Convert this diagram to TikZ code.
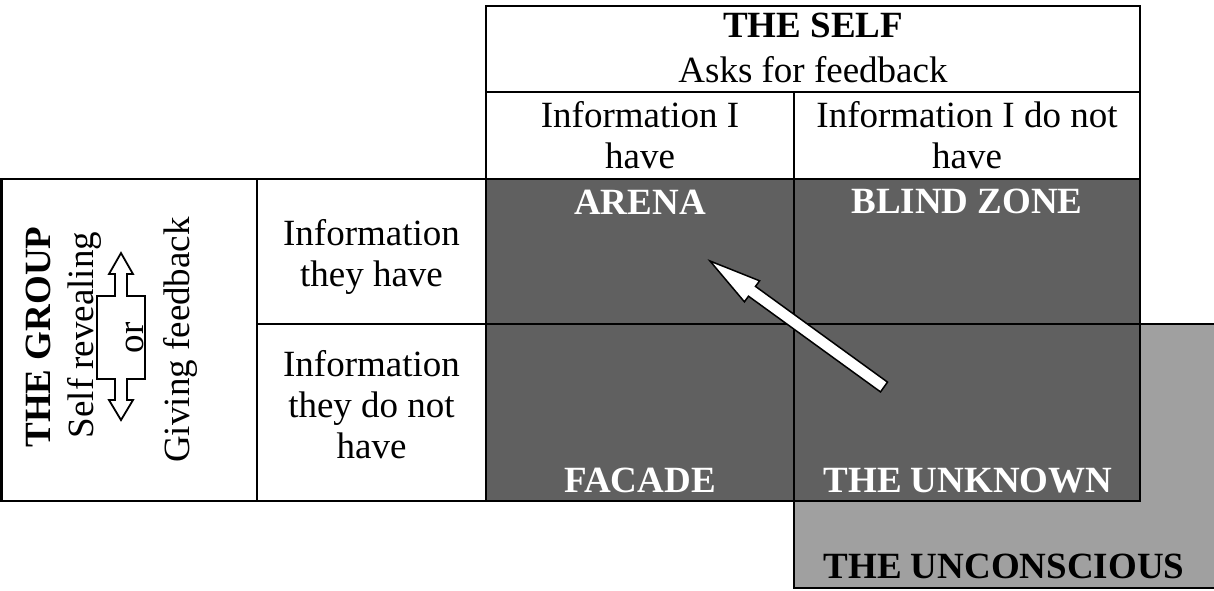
\documentclass[tikz,border=0pt]{standalone}
\usepackage{fontspec}
\setmainfont{Liberation Serif}
\definecolor{zonedark}{RGB}{96,96,96}
\definecolor{zonelight}{RGB}{160,160,160}
\begin{document}
\begin{tikzpicture}[x=1pt,y=-1pt,line width=2.5pt,
  reg/.style={font=\fontsize{37}{41}\selectfont, align=center, anchor=base, inner sep=0pt},
  hdr/.style={font=\fontsize{37}{41}\selectfont\bfseries, anchor=base, inner sep=0pt},
  zonelbl/.style={hdr, text=white},
  side/.style={reg, rotate=90}
]
\useasboundingbox (0,0) rectangle (1214,590);
% fills
\fill[zonelight] (794,324) rectangle (1220,588);
\fill[zonedark] (486,179) rectangle (1140,501);
% grid lines
\draw (486,6) rectangle (1140,179);
\draw (486,92) -- (1140,92);
\draw (794,92) -- (794,501);
\draw (1.25,179) rectangle (1140,501);
\draw (257,179) -- (257,501);
\draw (486,179) -- (486,501);
\draw (257,324) -- (1220,324);
\draw (794,501) -- (794,588) -- (1220,588);
% header texts (multi-line nodes: base = baseline of last line)
\node[hdr] (self) at (813,37) {THE SELF};
\node[reg] (asks) at (813,82) {Asks for feedback};
\node[reg] (infoI) at (640,168) {Information I\\have};
\node[reg] (infoNot) at (967,168) {Information I do not\\have};
\node[reg] (theyHave) at (371.5,286) {Information\\they have};
\node[reg] (theyNot) at (371.5,458) {Information\\they do not\\have};
% zone labels
\node[zonelbl] (arena) at (640,214) {ARENA};
\node[zonelbl] (blind) at (967,213) {BLIND ZONE};
\node[zonelbl] (facade) at (640,492) {FACADE};
\node[zonelbl] (unknown) at (968,492) {THE UNKNOWN};
\node[hdr] (unconscious) at (1004,578) {THE UNCONSCIOUS};
% group side
\node[hdr, rotate=90] (group) at (50,337) {THE GROUP};
\node[side] (selfrev) at (93,335) {Self revealing};
\node[side] (or) at (143,338) {or};
\node[side] (giving) at (189,340) {Giving feedback};
% double arrow
\draw[line width=1.8pt, line join=miter] (121,253) -- (133,274) -- (127,274) -- (127,296) -- (145,296) -- (145,379) -- (127,379) -- (127,400) -- (133,400) -- (121,420) -- (109,400) -- (115,400) -- (115,379) -- (97,379) -- (97,296) -- (115,296) -- (115,274) -- (109,274) -- cycle;
% central arrow
\filldraw[fill=white, draw=black, line width=1.5pt, line join=miter] (887.5,382.1) -- (755.5,286.4) -- (759.6,280.8) -- (710,261) -- (744.4,301.8) -- (748.5,296.2) -- (880.5,391.9) -- cycle;
\end{tikzpicture}
\end{document}
